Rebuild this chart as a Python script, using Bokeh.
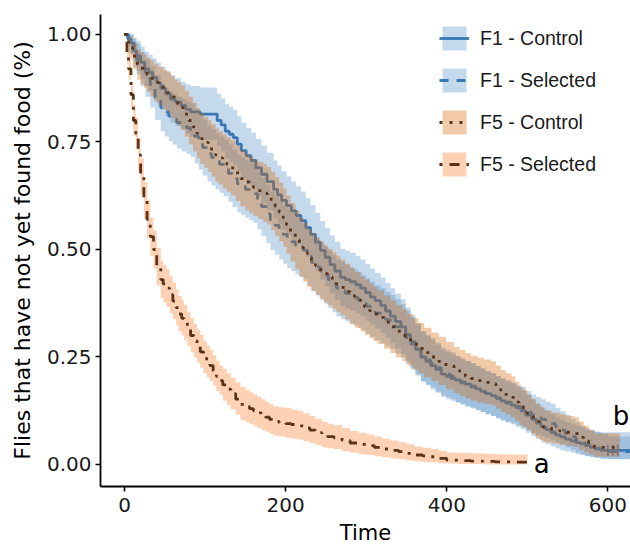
from bokeh.plotting import figure
from bokeh.models import Range1d, FixedTicker, PrintfTickFormatter, Legend, LegendItem, Label
from bokeh.embed import file_html
from bokeh.resources import INLINE

# ---- data: time, survival, lower / upper confidence bound ----
t1c = [0, 4, 8, 12, 15, 20, 25, 30, 35, 40, 45, 51, 57, 63, 70, 76, 82, 94, 115, 120,
       125, 130, 135, 140, 145, 151, 157, 163, 170, 177, 185, 190, 195, 201, 207, 213, 219, 225, 231, 237,
       243, 249, 255, 261, 268, 274, 280, 287, 293, 299, 305, 311, 318, 324, 330, 336, 343, 349, 355, 361,
       368, 374, 380, 386, 393, 399, 405, 411, 417, 423, 430, 436, 442, 448, 455, 461, 467, 473, 480, 486,
       492, 498, 505, 511, 517, 523, 529, 535, 541, 547, 554, 560, 566, 572, 578, 584, 591, 628]
s1c = [1.000, 0.990, 0.980, 0.962, 0.950, 0.935, 0.920, 0.912, 0.900, 0.888, 0.875, 0.862, 0.850, 0.843, 0.835, 0.826,
       0.820, 0.815, 0.800, 0.790, 0.775, 0.768, 0.760, 0.745, 0.730, 0.718, 0.707, 0.690, 0.675, 0.658, 0.640, 0.627,
       0.614, 0.602, 0.590, 0.579, 0.567, 0.551, 0.535, 0.517, 0.498, 0.482, 0.465, 0.450, 0.435, 0.430, 0.425, 0.418,
       0.410, 0.400, 0.390, 0.381, 0.370, 0.357, 0.345, 0.333, 0.320, 0.302, 0.285, 0.268, 0.250, 0.240, 0.230, 0.221,
       0.210, 0.205, 0.200, 0.196, 0.192, 0.187, 0.182, 0.176, 0.170, 0.165, 0.160, 0.154, 0.148, 0.143, 0.138, 0.132,
       0.125, 0.115, 0.105, 0.096, 0.088, 0.081, 0.075, 0.069, 0.064, 0.059, 0.055, 0.051, 0.048, 0.044, 0.040, 0.036,
       0.033, 0.033]
lo1c = [1.000, 0.972, 0.955, 0.932, 0.915, 0.897, 0.880, 0.869, 0.855, 0.840, 0.825, 0.810, 0.795, 0.788, 0.780, 0.770,
        0.762, 0.755, 0.740, 0.728, 0.712, 0.704, 0.695, 0.680, 0.665, 0.653, 0.642, 0.624, 0.608, 0.591, 0.573, 0.559,
        0.546, 0.534, 0.522, 0.511, 0.499, 0.483, 0.467, 0.449, 0.430, 0.414, 0.398, 0.383, 0.368, 0.363, 0.358, 0.351,
        0.344, 0.334, 0.325, 0.316, 0.306, 0.294, 0.282, 0.270, 0.258, 0.241, 0.225, 0.209, 0.193, 0.184, 0.175, 0.167,
        0.157, 0.152, 0.148, 0.144, 0.141, 0.136, 0.132, 0.127, 0.122, 0.117, 0.113, 0.107, 0.102, 0.097, 0.093, 0.088,
        0.082, 0.074, 0.066, 0.059, 0.052, 0.047, 0.042, 0.037, 0.033, 0.030, 0.027, 0.024, 0.022, 0.019, 0.017, 0.015,
        0.013, 0.013]
up1c = [1.000, 1.000, 1.000, 0.992, 0.985, 0.972, 0.960, 0.953, 0.945, 0.935, 0.925, 0.915, 0.905, 0.898, 0.890, 0.884,
        0.880, 0.877, 0.862, 0.852, 0.838, 0.832, 0.825, 0.810, 0.795, 0.783, 0.772, 0.757, 0.742, 0.725, 0.707, 0.695,
        0.682, 0.670, 0.658, 0.647, 0.635, 0.619, 0.603, 0.585, 0.566, 0.550, 0.533, 0.518, 0.502, 0.497, 0.492, 0.485,
        0.477, 0.466, 0.456, 0.446, 0.435, 0.422, 0.410, 0.397, 0.384, 0.365, 0.347, 0.329, 0.310, 0.299, 0.289, 0.279,
        0.267, 0.261, 0.256, 0.251, 0.247, 0.241, 0.236, 0.229, 0.223, 0.217, 0.212, 0.205, 0.199, 0.193, 0.188, 0.181,
        0.174, 0.162, 0.151, 0.141, 0.132, 0.124, 0.117, 0.110, 0.104, 0.099, 0.094, 0.090, 0.086, 0.081, 0.078, 0.076,
        0.075, 0.075]

t1s = [0, 5, 11, 15, 20, 26, 32, 38, 45, 50, 55, 60, 65, 71, 77, 82, 87, 92, 97, 103,
       108, 113, 118, 123, 129, 134, 140, 145, 150, 155, 160, 165, 170, 176, 181, 187, 192, 197, 202, 207,
       212, 217, 222, 227, 232, 238, 243, 248, 253, 258, 263, 269, 274, 279, 284, 290, 295, 300, 305, 311,
       318, 324, 330, 336, 343, 349, 355, 361, 368, 374, 380, 386, 393, 399, 405, 411, 417, 423, 430, 436,
       442, 448, 455, 461, 467, 473, 480, 486, 492, 498, 505, 511, 517, 523, 529, 535, 541, 547, 554, 560,
       566, 572, 578, 584, 591, 600, 628]
s1s = [1.000, 0.980, 0.956, 0.942, 0.920, 0.898, 0.877, 0.853, 0.830, 0.820, 0.810, 0.803, 0.795, 0.789, 0.783, 0.777,
       0.763, 0.750, 0.737, 0.723, 0.714, 0.705, 0.698, 0.690, 0.677, 0.665, 0.653, 0.647, 0.640, 0.635, 0.630, 0.615,
       0.600, 0.583, 0.567, 0.556, 0.545, 0.535, 0.525, 0.518, 0.510, 0.504, 0.498, 0.484, 0.470, 0.460, 0.450, 0.440,
       0.430, 0.420, 0.410, 0.404, 0.398, 0.393, 0.388, 0.382, 0.375, 0.368, 0.360, 0.352, 0.345, 0.337, 0.330, 0.320,
       0.310, 0.295, 0.280, 0.265, 0.250, 0.243, 0.235, 0.225, 0.215, 0.210, 0.205, 0.197, 0.190, 0.185, 0.180, 0.175,
       0.170, 0.165, 0.160, 0.155, 0.150, 0.145, 0.140, 0.135, 0.130, 0.122, 0.115, 0.110, 0.105, 0.100, 0.095, 0.088,
       0.080, 0.072, 0.065, 0.057, 0.050, 0.046, 0.042, 0.038, 0.035, 0.030, 0.030]
lo1s = [1.000, 0.955, 0.925, 0.907, 0.880, 0.855, 0.830, 0.802, 0.775, 0.763, 0.752, 0.744, 0.735, 0.728, 0.722, 0.715,
        0.700, 0.686, 0.672, 0.658, 0.649, 0.640, 0.632, 0.624, 0.611, 0.598, 0.586, 0.580, 0.573, 0.568, 0.562, 0.547,
        0.532, 0.515, 0.499, 0.488, 0.477, 0.467, 0.457, 0.450, 0.442, 0.436, 0.430, 0.417, 0.403, 0.393, 0.383, 0.374,
        0.364, 0.354, 0.344, 0.338, 0.333, 0.328, 0.323, 0.317, 0.311, 0.304, 0.296, 0.289, 0.282, 0.275, 0.268, 0.258,
        0.249, 0.235, 0.221, 0.207, 0.193, 0.186, 0.179, 0.170, 0.161, 0.157, 0.152, 0.145, 0.139, 0.134, 0.130, 0.126,
        0.122, 0.117, 0.113, 0.108, 0.104, 0.100, 0.096, 0.091, 0.087, 0.080, 0.074, 0.070, 0.066, 0.062, 0.058, 0.052,
        0.046, 0.040, 0.034, 0.028, 0.023, 0.020, 0.018, 0.016, 0.014, 0.012, 0.012]
up1s = [1.000, 1.000, 0.990, 0.978, 0.960, 0.942, 0.925, 0.905, 0.885, 0.876, 0.868, 0.862, 0.855, 0.850, 0.845, 0.840,
        0.828, 0.815, 0.802, 0.788, 0.779, 0.770, 0.763, 0.756, 0.744, 0.732, 0.720, 0.714, 0.707, 0.703, 0.698, 0.683,
        0.668, 0.651, 0.635, 0.624, 0.613, 0.603, 0.593, 0.586, 0.578, 0.572, 0.566, 0.552, 0.538, 0.527, 0.517, 0.507,
        0.497, 0.487, 0.477, 0.471, 0.465, 0.460, 0.454, 0.447, 0.440, 0.433, 0.425, 0.417, 0.410, 0.402, 0.394, 0.384,
        0.373, 0.358, 0.342, 0.326, 0.310, 0.302, 0.294, 0.283, 0.272, 0.267, 0.261, 0.253, 0.245, 0.240, 0.234, 0.229,
        0.223, 0.217, 0.212, 0.206, 0.201, 0.196, 0.190, 0.185, 0.180, 0.171, 0.163, 0.157, 0.152, 0.146, 0.141, 0.132,
        0.124, 0.115, 0.106, 0.098, 0.090, 0.085, 0.080, 0.076, 0.072, 0.065, 0.065]

t5c = [0, 5, 10, 16, 20, 24, 28, 32, 37, 42, 48, 53, 58, 62, 66, 70, 75, 80, 85, 90,
       94, 99, 104, 108, 113, 117, 122, 127, 132, 138, 144, 150, 155, 160, 166, 172, 177, 182, 187, 192,
       197, 201, 206, 212, 217, 222, 227, 232, 237, 242, 247, 252, 258, 263, 268, 274, 280, 286, 293, 298,
       304, 309, 314, 322, 330, 337, 345, 351, 358, 365, 372, 381, 390, 399, 409, 416, 423, 430, 438, 446,
       455, 461, 467, 473, 480, 485, 490, 495, 500, 505, 510, 515, 520, 530, 540, 549, 558, 564, 570, 576,
       583, 615]
s5c = [1.000, 0.970, 0.950, 0.930, 0.922, 0.915, 0.906, 0.898, 0.889, 0.880, 0.872, 0.865, 0.855, 0.845, 0.838, 0.830,
       0.815, 0.800, 0.785, 0.770, 0.758, 0.749, 0.740, 0.730, 0.720, 0.713, 0.705, 0.698, 0.690, 0.678, 0.665, 0.657,
       0.650, 0.644, 0.637, 0.631, 0.625, 0.612, 0.600, 0.587, 0.574, 0.558, 0.540, 0.522, 0.505, 0.493, 0.481, 0.471,
       0.462, 0.453, 0.444, 0.436, 0.428, 0.420, 0.412, 0.402, 0.392, 0.383, 0.374, 0.366, 0.358, 0.350, 0.342, 0.331,
       0.320, 0.310, 0.300, 0.290, 0.280, 0.270, 0.260, 0.250, 0.240, 0.229, 0.219, 0.212, 0.205, 0.200, 0.195, 0.191,
       0.188, 0.179, 0.170, 0.163, 0.156, 0.145, 0.135, 0.127, 0.119, 0.110, 0.100, 0.093, 0.086, 0.082, 0.078, 0.075,
       0.072, 0.063, 0.055, 0.047, 0.040, 0.040]
lo5c = [1.000, 0.945, 0.920, 0.895, 0.885, 0.876, 0.866, 0.856, 0.845, 0.835, 0.826, 0.818, 0.806, 0.795, 0.787, 0.778,
        0.762, 0.745, 0.728, 0.712, 0.699, 0.690, 0.680, 0.669, 0.658, 0.651, 0.642, 0.634, 0.626, 0.613, 0.600, 0.591,
        0.584, 0.578, 0.571, 0.564, 0.558, 0.545, 0.532, 0.519, 0.506, 0.490, 0.472, 0.454, 0.437, 0.425, 0.413, 0.404,
        0.395, 0.386, 0.378, 0.370, 0.362, 0.355, 0.347, 0.337, 0.327, 0.318, 0.310, 0.302, 0.295, 0.287, 0.280, 0.269,
        0.259, 0.249, 0.240, 0.230, 0.221, 0.212, 0.203, 0.194, 0.185, 0.175, 0.166, 0.159, 0.153, 0.148, 0.144, 0.141,
        0.138, 0.130, 0.122, 0.116, 0.110, 0.101, 0.092, 0.086, 0.079, 0.071, 0.063, 0.057, 0.052, 0.049, 0.046, 0.043,
        0.041, 0.034, 0.028, 0.023, 0.018, 0.018]
up5c = [1.000, 0.995, 0.980, 0.965, 0.959, 0.953, 0.946, 0.940, 0.932, 0.925, 0.918, 0.912, 0.903, 0.895, 0.889, 0.882,
        0.868, 0.855, 0.841, 0.828, 0.817, 0.808, 0.800, 0.791, 0.782, 0.775, 0.768, 0.761, 0.754, 0.742, 0.730, 0.722,
        0.716, 0.710, 0.704, 0.698, 0.692, 0.680, 0.668, 0.655, 0.642, 0.626, 0.608, 0.590, 0.573, 0.561, 0.549, 0.539,
        0.529, 0.520, 0.510, 0.502, 0.494, 0.486, 0.477, 0.467, 0.457, 0.447, 0.438, 0.430, 0.421, 0.413, 0.405, 0.393,
        0.382, 0.371, 0.361, 0.350, 0.340, 0.329, 0.318, 0.307, 0.297, 0.285, 0.274, 0.266, 0.259, 0.253, 0.248, 0.244,
        0.240, 0.230, 0.220, 0.212, 0.205, 0.193, 0.181, 0.172, 0.163, 0.153, 0.142, 0.134, 0.126, 0.121, 0.117, 0.113,
        0.110, 0.100, 0.090, 0.081, 0.072, 0.072]

t5s = [0, 3, 5, 8, 11, 14, 17, 20, 24, 28, 32, 36, 40, 45, 48, 52, 56, 60, 64, 67,
       71, 74, 78, 82, 86, 90, 94, 98, 102, 106, 110, 114, 118, 122, 127, 132, 138, 144, 150, 155,
       160, 165, 170, 175, 180, 185, 192, 200, 207, 215, 222, 230, 237, 245, 252, 260, 270, 280, 290, 300,
       310, 320, 330, 340, 350, 360, 370, 380, 390, 400, 415, 430, 445, 460, 480, 500]
s5s = [1.00, 0.95, 0.92, 0.86, 0.80, 0.77, 0.72, 0.67, 0.614, 0.57, 0.53, 0.50, 0.46, 0.43, 0.42, 0.41, 0.395, 0.38,
       0.365, 0.35, 0.34, 0.33, 0.315, 0.30, 0.288, 0.275, 0.262, 0.25, 0.24, 0.23, 0.218, 0.205, 0.195, 0.185, 0.175,
       0.165, 0.152, 0.14, 0.135, 0.13, 0.125, 0.12, 0.115, 0.11, 0.105, 0.10, 0.097, 0.095, 0.093, 0.09, 0.085, 0.08,
       0.074, 0.068, 0.065, 0.062, 0.056, 0.05, 0.047, 0.044, 0.04, 0.036, 0.033, 0.03, 0.026, 0.022, 0.02, 0.018,
       0.014, 0.01, 0.009, 0.008, 0.007, 0.006, 0.0055, 0.005]
lo5s = [1.0, 0.93, 0.895, 0.83, 0.765, 0.733, 0.68, 0.628, 0.571, 0.526, 0.486, 0.456, 0.416, 0.387, 0.377, 0.367, 0.352,
        0.338, 0.323, 0.309, 0.30, 0.29, 0.275, 0.261, 0.249, 0.237, 0.225, 0.213, 0.203, 0.194, 0.183, 0.171, 0.162,
        0.148, 0.138, 0.128, 0.115, 0.103, 0.098, 0.094, 0.089, 0.085, 0.08, 0.076, 0.071, 0.067, 0.065, 0.062, 0.06,
        0.058, 0.054, 0.05, 0.045, 0.04, 0.038, 0.036, 0.031, 0.027, 0.024, 0.022, 0.019, 0.017, 0.014, 0.012, 0.009,
        0.007, 0.006, 0.005, 0.003, 0.002, 0.001, 0.001, 0.0, 0.0, 0.0, 0.0]
up5s = [1.0, 0.97, 0.945, 0.89, 0.835, 0.807, 0.76, 0.712, 0.657, 0.614, 0.574, 0.544, 0.504, 0.474, 0.464, 0.454, 0.438,
        0.423, 0.407, 0.392, 0.382, 0.371, 0.355, 0.34, 0.327, 0.314, 0.301, 0.288, 0.277, 0.267, 0.254, 0.241, 0.23,
        0.222, 0.212, 0.202, 0.191, 0.18, 0.174, 0.168, 0.163, 0.157, 0.152, 0.146, 0.14, 0.135, 0.133, 0.132, 0.128,
        0.125, 0.119, 0.113, 0.106, 0.099, 0.095, 0.092, 0.085, 0.078, 0.074, 0.07, 0.065, 0.06, 0.056, 0.052, 0.047,
        0.042, 0.039, 0.036, 0.032, 0.028, 0.027, 0.026, 0.025, 0.024, 0.023, 0.022]

cens_t = [600, 606, 612]
cens_s = [0.033, 0.033, 0.033]

labels = ["F1 - Control", "F1 - Selected", "F5 - Control", "F5 - Selected"]
x_ticks = [0, 200, 400, 600]
y_ticks = [0, 0.25, 0.5, 0.75, 1.0]

# ---- styles ----
BLUE_LINE = "#3a78b5"
BROWN_LINE = "#5a3418"
BLUE_FILL = "#5992c9"
F5C_FILL = "#d46809"
F5S_FILL = "#f97e29"
FA = 0.35
LW = 2.8
AX_FONT = "DejaVu Sans"

p = figure(width=630, height=549, output_backend="svg", toolbar_location=None,
           x_range=Range1d(-29.8, 628), y_range=Range1d(-0.0512, 1.0465),
           min_border_left=100, min_border_right=0, min_border_top=14, min_border_bottom=63,
           background_fill_color="white", border_fill_color="white")
p.grid.visible = False
p.outline_line_color = None

# blue ribbons + blue lines (under the orange ribbons)
rb1c = p.varea_step(x=t1c, y1=lo1c, y2=up1c, step_mode="after", fill_color=BLUE_FILL, fill_alpha=FA)
rb1s = p.varea_step(x=t1s, y1=lo1s, y2=up1s, step_mode="after", fill_color=BLUE_FILL, fill_alpha=FA)
rl1c = p.step(x=t1c, y=s1c, mode="after", line_color=BLUE_LINE, line_width=LW)
rl1s = p.step(x=t1s, y=s1s, mode="after", line_color=BLUE_LINE, line_width=LW, line_dash="9 8")
p.scatter(x=cens_t, y=cens_s, marker="cross", size=11, line_color=BLUE_LINE, line_width=1.6)

# orange ribbons, then brown lines
rb5c = p.varea_step(x=t5c, y1=lo5c, y2=up5c, step_mode="after", fill_color=F5C_FILL, fill_alpha=FA)
rb5s = p.varea_step(x=t5s, y1=lo5s, y2=up5s, step_mode="after", fill_color=F5S_FILL, fill_alpha=FA)
rl5c = p.step(x=t5c, y=s5c, mode="after", line_color=BROWN_LINE, line_width=LW, line_dash="3 7")
rl5s = p.step(x=t5s, y=s5s, mode="after", line_color=BROWN_LINE, line_width=LW, line_dash="3 7 10 7")

legend = Legend(items=[
    LegendItem(label=labels[0], renderers=[rb1c, rl1c]),
    LegendItem(label=labels[1], renderers=[rb1s, rl1s]),
    LegendItem(label=labels[2], renderers=[rb5c, rl5c]),
    LegendItem(label=labels[3], renderers=[rb5s, rl5s]),
], location=(339, 307), glyph_width=30, glyph_height=30, spacing=12, label_standoff=11,
    padding=0, margin=0, border_line_color=None, background_fill_alpha=0,
    label_text_font="Liberation Sans", label_text_font_size="19.5px", label_text_color="#1a1a1a")
p.add_layout(legend)

p.add_layout(Label(x=508, y=0.0, text="a", text_font=AX_FONT, text_font_size="26px",
                   text_color="black", text_align="left", text_baseline="alphabetic"))
p.add_layout(Label(x=606, y=0.112, text="b", text_font=AX_FONT, text_font_size="26px",
                   text_color="black", text_align="left", text_baseline="alphabetic"))

for ax in (p.xaxis[0], p.yaxis[0]):
    ax.axis_line_color = "black"
    ax.axis_line_width = 1.8
    ax.major_tick_line_color = "black"
    ax.major_tick_line_width = 1.6
    ax.major_tick_out = 5
    ax.major_tick_in = 0
    ax.minor_tick_line_color = None
    ax.major_label_text_font = AX_FONT
    ax.major_label_text_font_size = "20px"
    ax.major_label_text_color = "#1a1a1a"
    ax.axis_label_text_font = AX_FONT
    ax.axis_label_text_font_style = "normal"
    ax.axis_label_text_color = "black"

p.xaxis.axis_label_text_font_size = "21px"
p.yaxis.axis_label_text_font_size = "22px"
p.xaxis.ticker = FixedTicker(ticks=x_ticks)
p.yaxis.ticker = FixedTicker(ticks=y_ticks)
p.yaxis.formatter = PrintfTickFormatter(format="%.2f")
p.xaxis.axis_label = "Time"
p.yaxis.axis_label = "Flies that have not yet found food (%)"
p.xaxis.major_label_standoff = 6
p.xaxis.axis_label_standoff = 6
p.yaxis.major_label_standoff = 4
p.yaxis.axis_label_standoff = 9

open("out.html", "w").write(file_html(p, INLINE))
